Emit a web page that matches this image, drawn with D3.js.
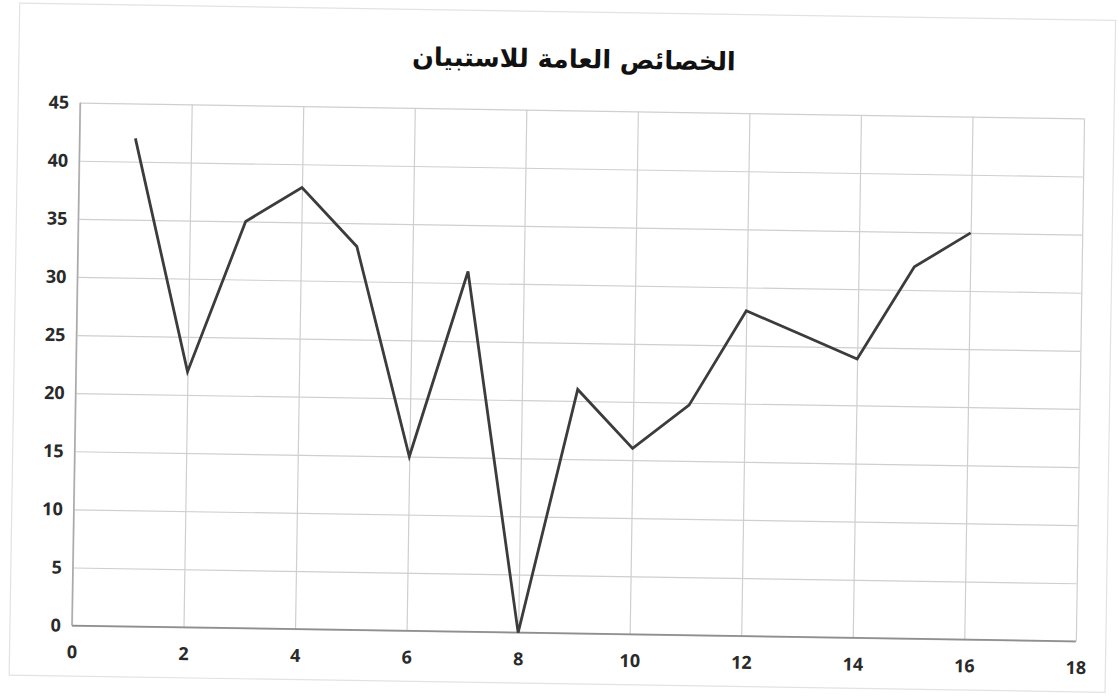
<!DOCTYPE html>
<html>
<head>
<meta charset="utf-8">
<script src="https://cdn.jsdelivr.net/npm/d3@7"></script>
<style>
  html, body { margin: 0; padding: 0; background: #ffffff; }
  svg { display: block; }
</style>
</head>
<body>
<div id="chart"></div>
<script>
// Chart data
const title = "الخصائص العامة للاستبيان";
const xValues = [1, 2, 3, 4, 5, 6, 7, 8, 9, 10, 11, 12, 13, 14, 15, 16];
const yValues = [42, 22, 35, 38, 33, 15, 31, 0, 21, 16, 19.8, 28, 26, 24, 32, 35];
const xTicks = [0, 2, 4, 6, 8, 10, 12, 14, 16, 18];
const yTicks = [0, 5, 10, 15, 20, 25, 30, 35, 40, 45];

const W = 1119, H = 698;
const plot = { left: 76, right: 1080, top: 110.5, bottom: 633.5 };
const tilt = 0.9; // the printed sheet sits slightly askew

const svg = d3.select("#chart").append("svg")
  .attr("width", W).attr("height", H);

svg.append("rect").attr("width", W).attr("height", H).attr("fill", "#ffffff");

const cx = (plot.left + plot.right) / 2, cy = (plot.top + plot.bottom) / 2;
const g = svg.append("g").attr("transform", `rotate(${tilt},${cx},${cy})`);

// outer chart frame
g.append("rect")
  .attr("x", 14).attr("y", 12).attr("width", 1096).attr("height", 672)
  .attr("fill", "none").attr("stroke", "#e2e2e2").attr("stroke-width", 1.2);

const x = d3.scaleLinear().domain([0, 18]).range([plot.left, plot.right]);
const y = d3.scaleLinear().domain([0, 45]).range([plot.bottom, plot.top]);

// horizontal gridlines
g.append("g")
  .attr("transform", `translate(${plot.left},0)`)
  .call(d3.axisLeft(y).tickValues(yTicks).tickSize(-(plot.right - plot.left)).tickFormat(""))
  .call(s => s.select(".domain").remove())
  .call(s => s.selectAll(".tick line").attr("stroke", "#cfcfcf").attr("stroke-width", 1.2));

// vertical gridlines
g.append("g")
  .attr("transform", `translate(0,${plot.bottom})`)
  .call(d3.axisBottom(x).tickValues(xTicks).tickSize(-(plot.bottom - plot.top)).tickFormat(""))
  .call(s => s.select(".domain").remove())
  .call(s => s.selectAll(".tick line").attr("stroke", "#cfcfcf").attr("stroke-width", 1.2));

// axis lines
g.append("line")
  .attr("x1", plot.left).attr("x2", plot.right)
  .attr("y1", plot.bottom).attr("y2", plot.bottom)
  .attr("stroke", "#8f8f8f").attr("stroke-width", 1.7);
g.append("line")
  .attr("x1", plot.left).attr("x2", plot.left)
  .attr("y1", plot.top).attr("y2", plot.bottom)
  .attr("stroke", "#aaaaaa").attr("stroke-width", 1.5);

// tick labels
const labelFont = "'Open Sans', 'DejaVu Sans', sans-serif";
const yAxis = g.append("g")
  .attr("transform", `translate(${plot.left},0)`)
  .call(d3.axisLeft(y).tickValues(yTicks).tickSize(0).tickPadding(11));
yAxis.select(".domain").remove();
yAxis.selectAll("text")
  .attr("font-family", labelFont).attr("font-size", 18).attr("font-weight", 700)
  .attr("fill", "#2a2a2a");

const xAxis = g.append("g")
  .attr("transform", `translate(0,${plot.bottom})`)
  .call(d3.axisBottom(x).tickValues(xTicks).tickSize(0).tickPadding(20));
xAxis.select(".domain").remove();
xAxis.selectAll("text")
  .attr("font-family", labelFont).attr("font-size", 18).attr("font-weight", 700)
  .attr("fill", "#2a2a2a");

// data line
const line = d3.line()
  .x((d, i) => x(xValues[i]))
  .y(d => y(d));
g.append("path")
  .datum(yValues)
  .attr("d", line)
  .attr("fill", "none")
  .attr("stroke", "#3c3c3c")
  .attr("stroke-width", 2.8)
  .attr("stroke-linejoin", "miter");

// title
g.append("text")
  .attr("x", 569).attr("y", 68)
  .attr("text-anchor", "middle")
  .attr("direction", "rtl")
  .attr("font-family", "'DejaVu Sans', sans-serif")
  .attr("font-size", 25.5).attr("font-weight", 700)
  .attr("fill", "#111111")
  .text(title);
</script>
</body>
</html>
